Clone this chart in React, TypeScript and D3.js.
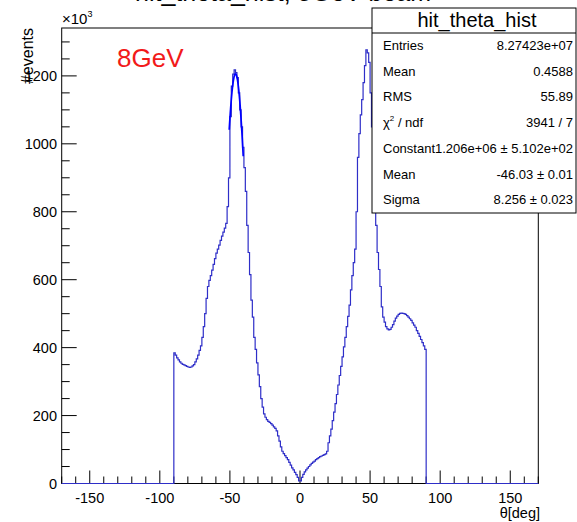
import React, { useEffect, useRef } from "react";
import * as d3 from "d3";

// histogram contents in units of 10^3, 1 deg bins
const leftLowEdge = -90; // first bin of leftCounts
const leftCounts = [
  385, 378, 370, 364, 358, 354, 351, 349, 347, 345,
  343, 342, 343, 346, 350, 358, 367, 378, 392, 405,
  430, 462, 500, 545, 580, 598, 612, 628, 645, 662,
  678, 690, 702, 716, 728, 740, 752, 766, 815, 900,
  1080, 1170, 1205, 1218, 1210, 1195, 1150, 1100, 1050, 990,
  930, 860, 760, 680, 615, 540, 490, 430, 395, 355,
  320, 285, 250, 225, 205, 195, 188, 183, 180, 176,
  172, 167, 162, 155, 140, 125, 108, 95, 88, 82,
  76, 70, 62, 54, 46, 40, 33, 26, 18, 8,
];
const rightLowEdge = 0; // first bin of rightCounts
const rightCounts = [
  8, 18, 27, 34, 40, 45, 50, 55, 59, 63,
  66, 70, 73, 76, 79, 81, 83, 85, 87, 95,
  120, 140, 160, 185, 210, 235, 262, 290, 318, 345,
  373, 402, 430, 462, 492, 525, 570, 612, 650, 690,
  800, 960, 1030, 1085, 1130, 1180, 1230, 1277, 1268, 1240,
  1150, 1050, 950, 800, 760, 680, 630, 580, 520, 490,
  475, 462, 455, 452, 454, 460, 468, 478, 487, 493,
  498, 501, 502, 501, 500, 498, 494, 490, 485, 480,
  473, 466, 460, 450, 442, 433, 424, 415, 405, 395,
];

const xTicks = [-150, -100, -50, 0, 50, 100, 150];
const yTicks = [0, 200, 400, 600, 800, 1000, 1200];

// gaus fit (stat box), Constant in 10^3
const fitConstant = 1206;
const fitMean = -46.03;
const fitSigma = 8.256;
const fitRange = [-50.5, -40.5];

const statRows = [
  ["Entries", "8.27423e+07"],
  ["Mean", "0.4588"],
  ["RMS", "55.89"],
  ["chi2", "3941 / 7"],
  ["Constant", "1.206e+06 \u00b1 5.102e+02"],
  ["Mean", "-46.03 \u00b1 0.01"],
  ["Sigma", "8.256 \u00b1 0.023"],
];

const FONT = "'Liberation Sans', Arial, Helvetica, sans-serif";

const App = () => {
  const svgRef = useRef(null);

  useEffect(() => {
    const svg = d3.select(svgRef.current);
    svg.selectAll("*").remove();

    const width = 577;
    const height = 522;
    const frame = { left: 61.7, right: 538.3, top: 28, bottom: 483.5 };

    const x = d3.scaleLinear().domain([-170, 170]).range([frame.left, frame.right]);
    const y = d3.scaleLinear().domain([0, 1341]).range([frame.bottom, frame.top]);

    svg.append("rect").attr("width", width).attr("height", height).attr("fill", "white");

    // title, mostly cut off at the top of the canvas
    svg
      .append("text")
      .attr("x", 135)
      .attr("y", 0.5)
      .attr("font-family", FONT)
      .attr("font-size", 25)
      .text("hit_theta_hist, 8GeV beam");

    // frame
    svg
      .append("rect")
      .attr("x", frame.left)
      .attr("y", frame.top)
      .attr("width", frame.right - frame.left)
      .attr("height", frame.bottom - frame.top)
      .attr("fill", "none")
      .attr("stroke", "black")
      .attr("stroke-width", 1);

    // x ticks (inside, pointing up)
    const xMinor = d3.range(-170, 171, 10);
    svg
      .append("g")
      .selectAll("line")
      .data(xMinor)
      .enter()
      .append("line")
      .attr("x1", (d) => x(d))
      .attr("x2", (d) => x(d))
      .attr("y1", frame.bottom)
      .attr("y2", (d) => frame.bottom - (d % 50 === 0 ? 13 : 7))
      .attr("stroke", "black");

    svg
      .append("g")
      .selectAll("text")
      .data(xTicks)
      .enter()
      .append("text")
      .attr("x", (d) => x(d))
      .attr("y", 503)
      .attr("text-anchor", "middle")
      .attr("font-family", FONT)
      .attr("font-size", 14.5)
      .text((d) => d);

    svg
      .append("text")
      .attr("x", 540)
      .attr("y", 518)
      .attr("text-anchor", "end")
      .attr("font-family", FONT)
      .attr("font-size", 14.5)
      .text("\u03b8[deg]");

    // y ticks (inside, pointing right)
    const yMinor = d3.range(0, 1341, 50);
    svg
      .append("g")
      .selectAll("line")
      .data(yMinor)
      .enter()
      .append("line")
      .attr("x1", frame.left)
      .attr("x2", (d) => frame.left + (d % 200 === 0 ? 15 : 8))
      .attr("y1", (d) => y(d))
      .attr("y2", (d) => y(d))
      .attr("stroke", "black");

    svg
      .append("g")
      .selectAll("text")
      .data(yTicks)
      .enter()
      .append("text")
      .attr("x", 57)
      .attr("y", (d) => y(d) + 5)
      .attr("text-anchor", "end")
      .attr("font-family", FONT)
      .attr("font-size", 14.5)
      .text((d) => d);

    const expo = svg
      .append("text")
      .attr("x", 62)
      .attr("y", 24)
      .attr("font-family", FONT)
      .attr("font-size", 15);
    expo.append("tspan").text("\u00d710");
    expo.append("tspan").attr("font-size", 9).attr("dy", -7).text("3");

    svg
      .append("text")
      .attr("transform", "rotate(-90)")
      .attr("x", -28)
      .attr("y", 33)
      .attr("text-anchor", "end")
      .attr("font-family", FONT)
      .attr("font-size", 16)
      .text("#events");

    // histogram
    const pts = [[-170, 0]];
    leftCounts.forEach((c, i) => pts.push([leftLowEdge + i, c]));
    rightCounts.forEach((c, i) => pts.push([rightLowEdge + i, c]));
    pts.push([rightLowEdge + rightCounts.length, 0]);
    pts.push([170, 0]);

    const histLine = d3
      .line()
      .x((d) => x(d[0]))
      .y((d) => y(d[1]))
      .curve(d3.curveStepAfter);

    svg
      .append("path")
      .attr("d", histLine(pts))
      .attr("fill", "none")
      .attr("stroke", "#2e2ec8")
      .attr("stroke-width", 1.2);

    // fit function
    const fitPts = d3
      .range(fitRange[0], fitRange[1] + 0.001, 0.25)
      .map((t) => [t, fitConstant * Math.exp(-0.5 * ((t - fitMean) / fitSigma) ** 2)]);
    svg
      .append("path")
      .attr("d", d3.line().x((d) => x(d[0])).y((d) => y(d[1]))(fitPts))
      .attr("fill", "none")
      .attr("stroke", "#0000ff")
      .attr("stroke-width", 1.7);

    // energy label
    svg
      .append("text")
      .attr("x", 117)
      .attr("y", 67)
      .attr("font-family", FONT)
      .attr("font-size", 26)
      .attr("fill", "#f21a1a")
      .text("8GeV");

    // stat box
    const box = { left: 372, top: 8, right: 576, bottom: 213 };
    const stats = svg.append("g");
    stats
      .append("rect")
      .attr("x", box.left)
      .attr("y", box.top)
      .attr("width", box.right - box.left)
      .attr("height", box.bottom - box.top)
      .attr("fill", "white")
      .attr("stroke", "black");
    stats
      .append("line")
      .attr("x1", box.left)
      .attr("x2", box.right)
      .attr("y1", 33)
      .attr("y2", 33)
      .attr("stroke", "black");
    stats
      .append("text")
      .attr("x", (box.left + box.right) / 2 + 3)
      .attr("y", 27)
      .attr("text-anchor", "middle")
      .attr("font-family", FONT)
      .attr("font-size", 20)
      .text("hit_theta_hist");

    statRows.forEach(([label, value], i) => {
      const yy = 50 + i * 25.7;
      const lt = stats
        .append("text")
        .attr("x", 383)
        .attr("y", yy)
        .attr("font-family", FONT)
        .attr("font-size", 13);
      if (label === "chi2") {
        lt.append("tspan").text("\u03c7");
        lt.append("tspan").attr("font-size", 8).attr("dy", -6).text("2");
        lt.append("tspan").attr("dy", 6).text(" / ndf");
      } else {
        lt.text(label);
      }
      stats
        .append("text")
        .attr("x", 573)
        .attr("y", yy)
        .attr("text-anchor", "end")
        .attr("font-family", FONT)
        .attr("font-size", 13)
        .text(value);
    });
  }, []);

  return (
    <svg
      ref={svgRef}
      width={577}
      height={522}
      style={{ position: "absolute", left: 0, top: 0 }}
    />
  );
};

export default App;
